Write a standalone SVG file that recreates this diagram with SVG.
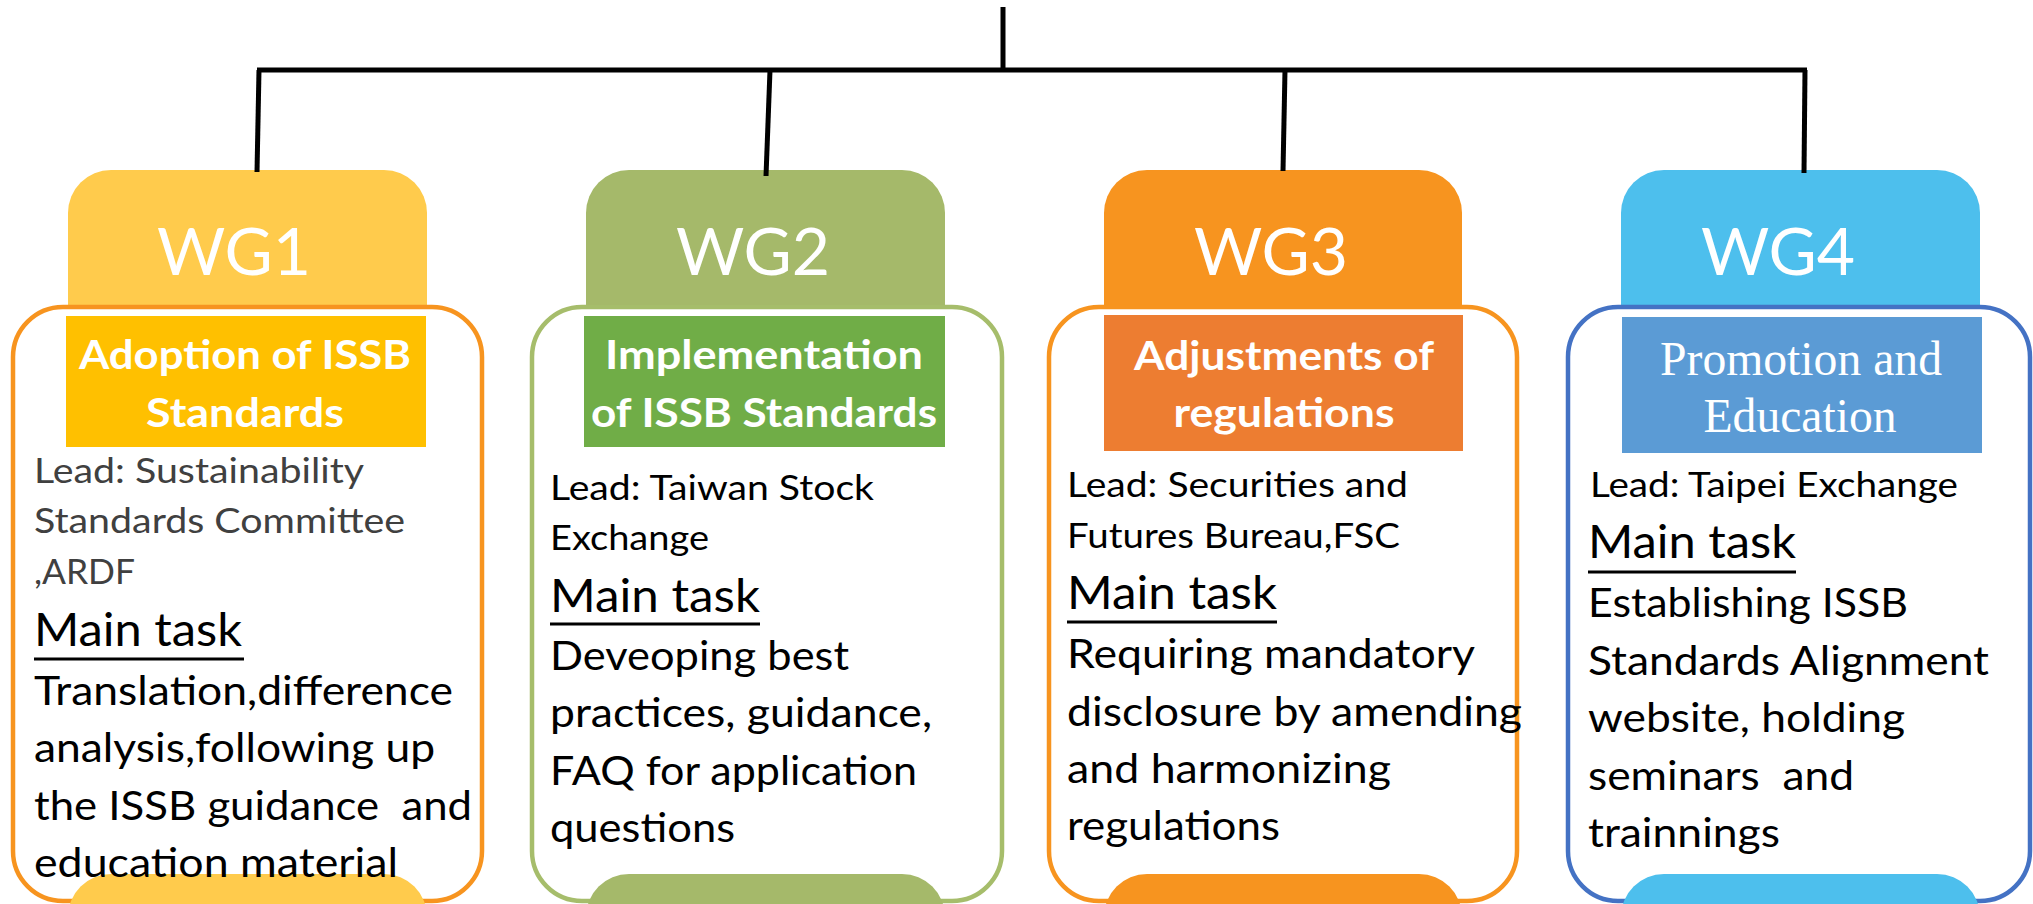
<svg xmlns="http://www.w3.org/2000/svg" width="2033" height="904" viewBox="0 0 2033 904">
<style>
.conn{stroke:#000;stroke-width:5;fill:none;stroke-linecap:butt}
.box{fill:#fff;stroke-width:4.5}
.wg{font-family:Lato,'Liberation Sans',sans-serif;font-size:66px;fill:#fff;text-anchor:middle}
.sub{font-family:Lato,'Liberation Sans',sans-serif;font-size:41px;font-weight:700;fill:#fff;text-anchor:middle}
.subs{font-family:'Liberation Serif','Times New Roman',serif;font-size:48px;fill:#fff;text-anchor:middle}
.lead{font-family:Lato,'Liberation Sans',sans-serif;font-size:34px;fill:#000}
.mt{font-family:Lato,'Liberation Sans',sans-serif;font-size:46px;fill:#000}
.body{font-family:Lato,'Liberation Sans',sans-serif;font-size:40px;fill:#000}
.ul{stroke:#000;stroke-width:3}
</style>
<rect width="2033" height="904" fill="#fff"/>

<g id="wg1">
<path d="M68,307 V213 A43,43 0 0 1 111,170 H384 A43,43 0 0 1 427,213 V307 Z" fill="#FFCB4C"/>
<rect class="box" x="13" y="307" width="469" height="594" rx="50" stroke="#F7941F"/>
<rect x="66" y="316" width="360" height="131" fill="#FFC000"/>
<text class="wg" x="234" y="275">WG1</text>
<text class="sub" x="245" y="369" textLength="332" lengthAdjust="spacingAndGlyphs">Adoption of ISSB</text>
<text class="sub" x="245" y="427" textLength="198" lengthAdjust="spacingAndGlyphs">Standards</text>
<text class="lead" x="34" y="483" style="fill:#404040" textLength="330" lengthAdjust="spacingAndGlyphs">Lead: Sustainability</text>
<text class="lead" x="34" y="533" style="fill:#404040" textLength="371" lengthAdjust="spacingAndGlyphs">Standards Committee</text>
<text class="lead" x="34" y="584" style="fill:#404040" textLength="101" lengthAdjust="spacingAndGlyphs">,ARDF</text>
<text class="mt" x="34" y="646" textLength="208" lengthAdjust="spacingAndGlyphs">Main task</text>
<line class="ul" x1="34" y1="659" x2="244" y2="659"/>
<path d="M68,920 V917 A43,43 0 0 1 111,874 H384 A43,43 0 0 1 427,917 V920 Z" fill="#FFCB4C"/>
<text class="body" x="34" y="705" textLength="419" lengthAdjust="spacingAndGlyphs">Translation,difference</text>
<text class="body" x="34" y="762" textLength="401" lengthAdjust="spacingAndGlyphs">analysis,following up</text>
<text class="body" x="34" y="820" xml:space="preserve" textLength="438" lengthAdjust="spacingAndGlyphs">the ISSB guidance  and</text>
<text class="body" x="34" y="877" textLength="364" lengthAdjust="spacingAndGlyphs">education material</text>
</g>

<g id="wg2">
<path d="M586,307 V213 A43,43 0 0 1 629,170 H902 A43,43 0 0 1 945,213 V307 Z" fill="#A5B96A"/>
<rect class="box" x="532" y="307" width="470" height="594" rx="50" stroke="#A6BD6B"/>
<rect x="584" y="316" width="361" height="131" fill="#70AD47"/>
<text class="wg" x="753" y="275">WG2</text>
<text class="sub" x="764" y="369" textLength="318" lengthAdjust="spacingAndGlyphs">Implementation</text>
<text class="sub" x="764" y="427" textLength="346" lengthAdjust="spacingAndGlyphs">of ISSB Standards</text>
<text class="lead" x="550" y="500" textLength="324" lengthAdjust="spacingAndGlyphs">Lead: Taiwan Stock</text>
<text class="lead" x="550" y="550" textLength="159" lengthAdjust="spacingAndGlyphs">Exchange</text>
<text class="mt" x="550" y="612" textLength="210" lengthAdjust="spacingAndGlyphs">Main task</text>
<line class="ul" x1="550" y1="624" x2="760" y2="624"/>
<path d="M586,920 V917 A43,43 0 0 1 629,874 H902 A43,43 0 0 1 945,917 V920 Z" fill="#A5B96A"/>
<text class="body" x="550" y="670" textLength="299" lengthAdjust="spacingAndGlyphs">Deveoping best</text>
<text class="body" x="550" y="727" textLength="382" lengthAdjust="spacingAndGlyphs">practices, guidance,</text>
<text class="body" x="550" y="785" textLength="367" lengthAdjust="spacingAndGlyphs">FAQ for application</text>
<text class="body" x="550" y="842" textLength="185" lengthAdjust="spacingAndGlyphs">questions</text>
</g>

<g id="wg3">
<path d="M1104,307 V213 A43,43 0 0 1 1147,170 H1419 A43,43 0 0 1 1462,213 V307 Z" fill="#F7941F"/>
<rect class="box" x="1049" y="307" width="468" height="594" rx="50" stroke="#F7941F"/>
<rect x="1104" y="315" width="359" height="136" fill="#ED7D31"/>
<text class="wg" x="1271" y="275">WG3</text>
<text class="sub" x="1284" y="370" textLength="300" lengthAdjust="spacingAndGlyphs">Adjustments of</text>
<text class="sub" x="1284" y="427" textLength="221" lengthAdjust="spacingAndGlyphs">regulations</text>
<text class="lead" x="1067" y="497" textLength="341" lengthAdjust="spacingAndGlyphs">Lead: Securities and</text>
<text class="lead" x="1067" y="548" textLength="333" lengthAdjust="spacingAndGlyphs">Futures Bureau,FSC</text>
<text class="mt" x="1067" y="609" textLength="210" lengthAdjust="spacingAndGlyphs">Main task</text>
<line class="ul" x1="1067" y1="622" x2="1277" y2="622"/>
<path d="M1104,920 V917 A43,43 0 0 1 1147,874 H1419 A43,43 0 0 1 1462,917 V920 Z" fill="#F7941F"/>
<text class="body" x="1067" y="668" textLength="408" lengthAdjust="spacingAndGlyphs">Requiring mandatory</text>
<text class="body" x="1067" y="726" textLength="455" lengthAdjust="spacingAndGlyphs">disclosure by amending</text>
<text class="body" x="1067" y="783" textLength="324" lengthAdjust="spacingAndGlyphs">and harmonizing</text>
<text class="body" x="1067" y="840" textLength="213" lengthAdjust="spacingAndGlyphs">regulations</text>
</g>

<g id="wg4">
<path d="M1621,307 V213 A43,43 0 0 1 1664,170 H1937 A43,43 0 0 1 1980,213 V307 Z" fill="#4DBFED"/>
<rect class="box" x="1568" y="307" width="462" height="594" rx="50" stroke="#4472C4"/>
<rect x="1622" y="317" width="360" height="136" fill="#5B9BD5"/>
<text class="wg" x="1778" y="275">WG4</text>
<text class="subs" x="1801" y="375" textLength="282" lengthAdjust="spacingAndGlyphs">Promotion and</text>
<text class="subs" x="1800" y="432" textLength="193" lengthAdjust="spacingAndGlyphs">Education</text>
<text class="lead" x="1590" y="497" textLength="368" lengthAdjust="spacingAndGlyphs">Lead: Taipei Exchange</text>
<text class="mt" x="1588" y="558" textLength="208" lengthAdjust="spacingAndGlyphs">Main task</text>
<line class="ul" x1="1588" y1="572" x2="1796" y2="572"/>
<path d="M1621,920 V917 A43,43 0 0 1 1664,874 H1937 A43,43 0 0 1 1980,917 V920 Z" fill="#4DBFED"/>
<text class="body" x="1588" y="617" textLength="320" lengthAdjust="spacingAndGlyphs">Establishing ISSB</text>
<text class="body" x="1588" y="675" textLength="401" lengthAdjust="spacingAndGlyphs">Standards Alignment</text>
<text class="body" x="1588" y="732" textLength="317" lengthAdjust="spacingAndGlyphs">website, holding</text>
<text class="body" x="1588" y="790" xml:space="preserve" textLength="266" lengthAdjust="spacingAndGlyphs">seminars  and</text>
<text class="body" x="1588" y="847" textLength="192" lengthAdjust="spacingAndGlyphs">trainnings</text>
</g>

<g id="connectors">
<path class="conn" d="M1003,7 V70"/>
<path class="conn" d="M257,70 H1807"/>
<path class="conn" d="M259,70 L257,172"/>
<path class="conn" d="M770,70 L766,176"/>
<path class="conn" d="M1285,70 L1283,171"/>
<path class="conn" d="M1805,70 L1804,173"/>
</g>
</svg>
